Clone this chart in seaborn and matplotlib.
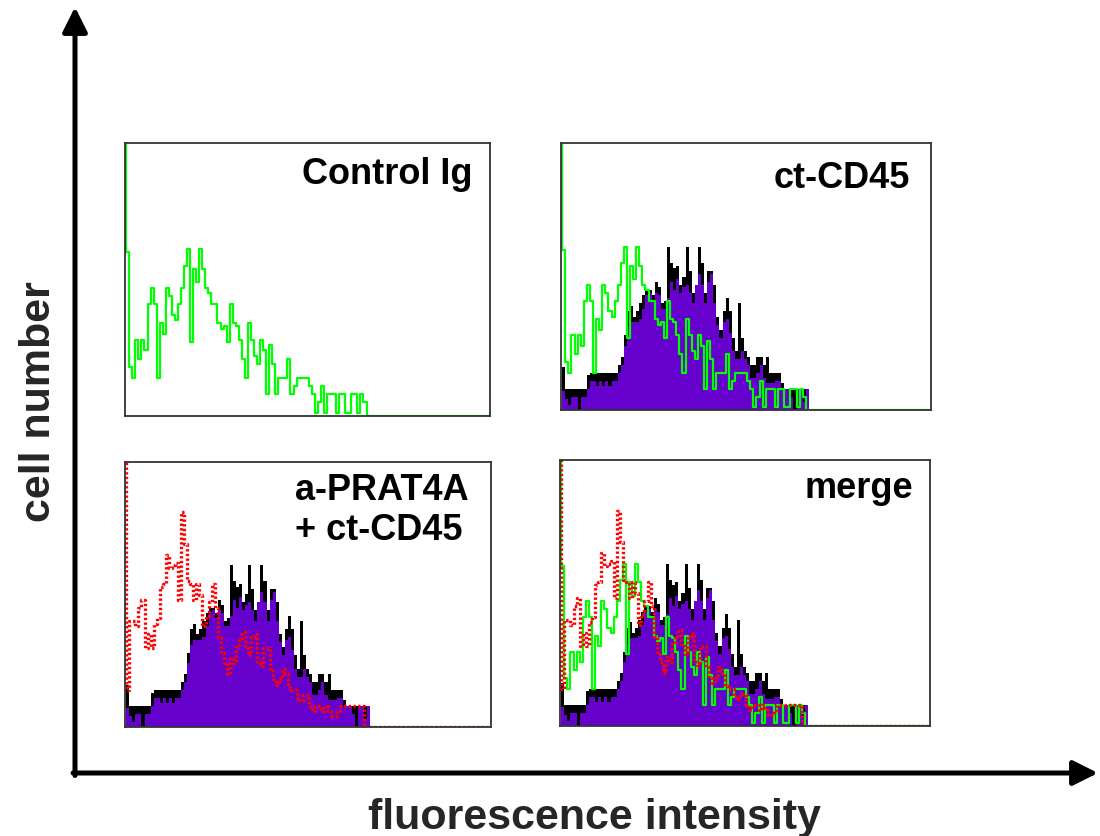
import numpy as np
import pandas as pd
import matplotlib
matplotlib.use("Agg")
import matplotlib.pyplot as plt
from matplotlib.patches import FancyArrowPatch
import seaborn as sns

# ---------------- data (cell counts per fluorescence channel, % of panel height) ----
n_channels = 120

control_ig = [150, 60, 18, 14, 28, 21, 28, 24, 41, 47, 41, 14, 34, 30, 47, 44, 37, 35,
              41, 47, 55, 61, 27, 54, 49, 61, 54, 47, 45, 41, 41, 34, 32, 33, 27, 41,
              34, 33, 28, 21, 14, 34, 28, 22, 19, 28, 24, 8, 26, 19, 8, 14, 14, 14,
              21, 8, 11, 14, 14, 14, 14, 11, 8, 1, 5, 11, 1, 8, 8, 8, 1, 8, 8, 1, 1,
              8, 8, 1, 8, 5]

ct_cd45_outline = [0, 16, 8, 8, 8, 8, 8, 8, 8, 13, 14, 14, 14, 14, 14, 14, 14, 14, 14,
                   17, 20, 28, 37, 39, 35, 37, 40, 43, 45, 45, 43, 48, 46, 40, 41, 61,
                   55, 53, 54, 47, 50, 61, 52, 44, 47, 61, 55, 44, 52, 52, 47, 35, 30,
                   37, 42, 37, 27, 22, 40, 27, 22, 20, 17, 17, 20, 20, 17, 20, 14, 14,
                   14, 14, 10, 8, 8, 8, 8, 8, 8, 8, 8]

ct_cd45_fill = [0, 7, 4, 2, 5, 5, 0, 5, 5, 8, 11, 11, 9, 11, 9, 11, 9, 11, 11, 14, 17,
                24, 31, 33, 33, 33, 34, 38, 43, 44, 41, 44, 43, 38, 38, 42, 48, 45, 49,
                44, 46, 47, 44, 40, 47, 51, 47, 40, 48, 51, 40, 32, 27, 33, 34, 29, 22,
                19, 19, 22, 19, 17, 12, 12, 14, 17, 12, 10, 10, 10, 11, 11, 8, 8, 8, 5,
                0, 8, 8, 3, 8]

prat4a_ct_cd45 = [150, 14, 40, 40, 38, 45, 48, 30, 35, 30, 39, 41, 53, 54, 65, 60, 61,
                  62, 48, 81, 69, 55, 54, 48, 54, 50, 38, 42, 47, 54, 45, 34, 28, 24,
                  20, 26, 24, 31, 33, 36, 30, 27, 34, 35, 24, 23, 30, 30, 22, 18, 16,
                  18, 22, 20, 15, 14, 14, 11, 10, 12, 12, 8, 6, 8, 8, 6, 8, 6, 4, 4, 6,
                  8, 8, 8, 8, 8, 8, 8, 8]

panel_titles = ["Control Ig", "ct-CD45", "a-PRAT4A\n+ ct-CD45", "merge"]
x_label = "fluorescence intensity"
y_label = "cell number"

# ---------------- table ----------------
def pad(v):
    v = np.asarray(v, dtype=float)
    return np.pad(v, (0, n_channels - len(v)))

df = pd.DataFrame({
    "channel": np.arange(n_channels) + 0.5,
    "control": pad(control_ig),
    "outline": pad(ct_cd45_outline),
    "fill": pad(ct_cd45_fill),
    "prat": pad(prat4a_ct_cd45),
})

GREEN = "#00ff00"
PURPLE = "#6600cc"
RED = "#ff0000"

sns.set_style("white")
plt.rcParams["font.family"] = ["Liberation Sans", "DejaVu Sans"]

fig = plt.figure(figsize=(11, 8.36), dpi=100)
W, H = 1100, 836

def panel(l, t, r, b):
    return fig.add_axes([l / W, 1 - b / H, (r - l) / W, (b - t) / H])

ax_tl = panel(125, 143, 490, 416)
ax_tr = panel(561, 143, 931, 410)
ax_bl = panel(125, 462, 491, 727)
ax_br = panel(560, 460, 930, 726)

hkw = dict(data=df, x="channel", binwidth=1, binrange=(0, n_channels), element="step")


def hist_fill(ax, col, color):
    sns.histplot(weights=col, fill=True, color=color, alpha=1, linewidth=0, ax=ax, **hkw)


def hist_line(ax, col, color, **kw):
    sns.histplot(weights=col, fill=False, color=color, ax=ax, **hkw, **kw)


red_kw = dict(linewidth=2.4, linestyle=(0, (0.7, 0.7)))

# Control Ig
hist_line(ax_tl, "control", GREEN, linewidth=1.6)
# ct-CD45
hist_fill(ax_tr, "outline", "black")
hist_fill(ax_tr, "fill", PURPLE)
hist_line(ax_tr, "control", GREEN, linewidth=1.6)
# a-PRAT4A + ct-CD45
hist_fill(ax_bl, "outline", "black")
hist_fill(ax_bl, "fill", PURPLE)
hist_line(ax_bl, "prat", RED, **red_kw)
# merge
hist_fill(ax_br, "outline", "black")
hist_fill(ax_br, "fill", PURPLE)
hist_line(ax_br, "control", GREEN, linewidth=1.6)
hist_line(ax_br, "prat", RED, **red_kw)

for ax in (ax_tl, ax_tr, ax_bl, ax_br):
    ax.set_xlim(0.6, n_channels + 0.6)
    ax.set_ylim(0, 100)
    ax.set_xticks([])
    ax.set_yticks([])
    ax.set_xlabel("")
    ax.set_ylabel("")
    ax.set_facecolor("white")
    for s in ax.spines.values():
        s.set_visible(True)
        s.set_color("#333333")
        s.set_linewidth(1.3)

tkw = dict(fontsize=26, fontweight="bold", color="black", va="baseline")
ax_tl.text(0.953, 0.85, panel_titles[0], transform=ax_tl.transAxes, ha="right", **tkw)
ax_tr.text(0.943, 0.83, panel_titles[1], transform=ax_tr.transAxes, ha="right", **tkw)
l1, l2 = panel_titles[2].split("\n")
ax_bl.text(0.464, 0.857, l1, transform=ax_bl.transAxes, ha="left", **tkw)
ax_bl.text(0.464, 0.706, l2, transform=ax_bl.transAxes, ha="left", **tkw)
ax_br.text(0.954, 0.857, panel_titles[3], transform=ax_br.transAxes, ha="right", **tkw)

# big axes arrows
style = "-|>,head_length=1.0,head_width=0.5"
fig.add_artist(FancyArrowPatch((75 / W, 1 - 775.5 / H), (75 / W, 1 - 7 / H),
                               transform=fig.transFigure, arrowstyle=style,
                               mutation_scale=15, lw=3.6, color="black",
                               shrinkA=0, shrinkB=0))
fig.add_artist(FancyArrowPatch((73 / W, 1 - 773 / H), (1098 / W, 1 - 773 / H),
                               transform=fig.transFigure, arrowstyle=style,
                               mutation_scale=15, lw=3.6, color="black",
                               shrinkA=0, shrinkB=0))

fig.text(594 / W, 1 - 829 / H, x_label, ha="center", va="baseline",
         fontsize=31, fontweight="bold")
fig.text(39 / W, 1 - 402 / H, y_label, ha="center", va="center", rotation=90,
         fontsize=31, fontweight="bold")

fig.savefig("out.png", dpi=100, facecolor="white")
